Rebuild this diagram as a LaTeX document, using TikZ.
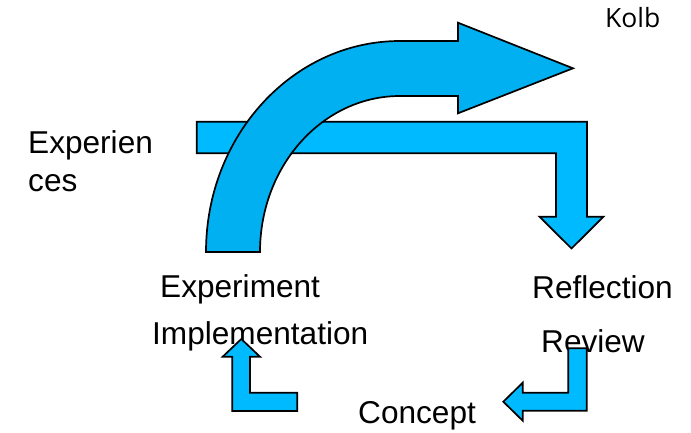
\documentclass[tikz,border=0pt]{standalone}
\usepackage{fontspec}
\setmainfont{Liberation Sans}
\newfontfamily\kolbfont{Open Sans}
\usepackage{tikz}
\usetikzlibrary{positioning}
\definecolor{bendblue}{RGB}{0,176,240}
\definecolor{barblue}{RGB}{0,186,255}

\begin{document}
\begin{tikzpicture}[x=1pt,y=-1pt,
  lbl/.style={inner sep=0pt,anchor=base west,font=\fontsize{31.6}{37}\selectfont},
  blockarrow/.style={draw=black,line width=1.7pt,line join=miter}]
\useasboundingbox (0,0) rectangle (691,433);
% labels
\node (kolb) [inner sep=0pt,anchor=base west,font=\kolbfont\fontsize{26.5}{30}\selectfont] at (605,28) {Kolb};
\node (exp1) [lbl] at (28,154) {Experien};
\node (exp2) [lbl] at (28,192) {ces};
\node (expmt) [lbl] at (160,297) {Experiment};
\node (impl) [lbl] at (152,344) {Implementation};
\node (refl) [lbl] at (532,298) {Reflection};
\node (rev) [lbl] at (541,352) {Review};
\node (conc) [lbl] at (358,423) {Concept};
%
% experiences -> reflection
\path[blockarrow,fill=barblue] (196.7,121.7) -- (587,121.7) -- (587,216.7) -- (603.5,216.7)
  -- (571.5,248.5) -- (539.5,216.7) -- (556,216.7) -- (556,153.3) -- (196.7,153.3) -- cycle;
% experiment -> over the top
\path[blockarrow,fill=bendblue] (206,252) .. controls (206,135.5) and (292.9,41) .. (400,41)
  -- (458,41) -- (458,22.7) -- (573,68.3) -- (458,113.3) -- (458,96) -- (400,96)
  .. controls (322.7,96) and (260,165.8) .. (260,252) -- cycle;
% concept -> implementation
\path[blockarrow,fill=barblue] (232.3,411) -- (232.3,356.7) -- (222.7,356.7) -- (241.3,339)
  -- (260,356.7) -- (250,356.7) -- (250,392.7) -- (297.3,392.7) -- (297.3,411) -- cycle;
% review -> concept
\path[blockarrow,fill=barblue] (568.3,348.3) -- (586.7,348.3) -- (586.7,410.7) -- (522.7,410.7)
  -- (522.7,420.7) -- (503.3,401.7) -- (522.7,382.7) -- (522.7,392.7) -- (568.3,392.7) -- cycle;
\end{tikzpicture}
\end{document}
